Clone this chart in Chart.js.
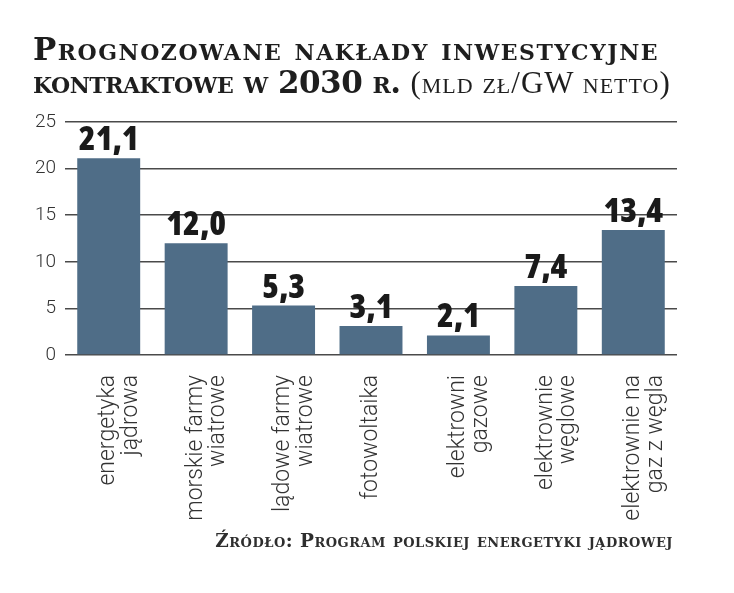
<!DOCTYPE html>
<html lang="pl">
<head>
<meta charset="utf-8">
<title>Prognozowane nakłady inwestycyjne</title>
<script src="https://cdn.jsdelivr.net/npm/chart.js@4.4.1/dist/chart.umd.min.js"></script>
<style>
  html, body { margin: 0; padding: 0; background: #fff; }
  #wrap { position: relative; width: 734px; height: 593px; overflow: hidden; }
  #title {
    position: absolute; left: 33px; top: 33px;
    font-family: "DejaVu Serif", serif; font-variant: small-caps;
    font-size: 31px; line-height: 33px; color: #1e1e1e; white-space: nowrap;
  }
  #title b { font-weight: bold; letter-spacing: 1.5px; }
  #title b.l2 { letter-spacing: -0.5px; }
  #title .n { font-family: "Liberation Serif", serif; font-weight: normal; letter-spacing: 1px; }
  #source {
    position: absolute; right: 61px; top: 530px;
    font-family: "DejaVu Serif", serif; font-variant: small-caps; font-weight: bold;
    font-size: 18.5px; line-height: 22px; letter-spacing: 0.5px; color: #2e2e2e; white-space: nowrap;
  }
  canvas { position: absolute; left: 0; top: 0; }
</style>
</head>
<body>
<div id="wrap">
  <canvas id="chart" width="734" height="593"></canvas>
  <div id="title"><b>Prognozowane nakłady inwestycyjne</b><br><b class="l2">kontraktowe w 2030 r.</b> <span class="n">(mld zł/GW netto)</span></div>
  <div id="source">Źródło: Program polskiej energetyki jądrowej</div>
</div>
<script>
const categories = [
  ["energetyka", "jądrowa"],
  ["morskie farmy", "wiatrowe"],
  ["lądowe farmy", "wiatrowe"],
  "fotowoltaika",
  ["elektrowni", "gazowe"],
  ["elektrownie", "węglowe"],
  ["elektrownie na", "gaz z węgla"]
];
const values = [21.1, 12.0, 5.3, 3.1, 2.1, 7.4, 13.4];
const yMax = 25;
const yStep = 5;

// numbers above the bars, Polish decimal comma
const valueLabels = {
  id: "valueLabels",
  afterDatasetsDraw(chart) {
    const ctx = chart.ctx;
    const meta = chart.getDatasetMeta(0);
    ctx.save();
    ctx.font = 'condensed 800 34px "Open Sans", sans-serif';
    if ("fontStretch" in ctx) ctx.fontStretch = "condensed";
    ctx.fillStyle = "#1a1a1a";
    ctx.textAlign = "center";
    ctx.textBaseline = "alphabetic";
    meta.data.forEach((bar, i) => {
      ctx.fillText(values[i].toFixed(1).replace(".", ","), bar.x, bar.y - 8);
    });
    ctx.restore();
  }
};

const ctx = document.getElementById("chart").getContext("2d");
new Chart(ctx, {
  type: "bar",
  data: {
    labels: categories,
    datasets: [{
      data: values,
      backgroundColor: "#4f6d87",
      borderWidth: 0,
      categoryPercentage: 1,
      barPercentage: 0.72
    }]
  },
  options: {
    responsive: false,
    animation: false,
    layout: { padding: { top: 122, left: 25, right: 57, bottom: 38 } },
    plugins: { legend: { display: false }, tooltip: { enabled: false } },
    scales: {
      x: {
        grid: { display: false },
        border: { display: false },
        afterFit(scale) { scale.height = 200; },
        ticks: {
          maxRotation: 90,
          minRotation: 90,
          padding: 12,
          color: "#333",
          font: { family: "Roboto", weight: 300, size: 23, lineHeight: 0.98 }
        }
      },
      y: {
        min: 0,
        max: yMax,
        border: { display: false },
        afterFit(scale) { scale.width = 40; },
        grid: { color: "#4a4a4a", lineWidth: 1.5, drawTicks: false },
        ticks: {
          stepSize: yStep,
          padding: 9,
          color: "#333",
          font: { family: "Roboto", weight: 300, size: 19 }
        }
      }
    }
  },
  plugins: [valueLabels]
});
</script>
</body>
</html>
